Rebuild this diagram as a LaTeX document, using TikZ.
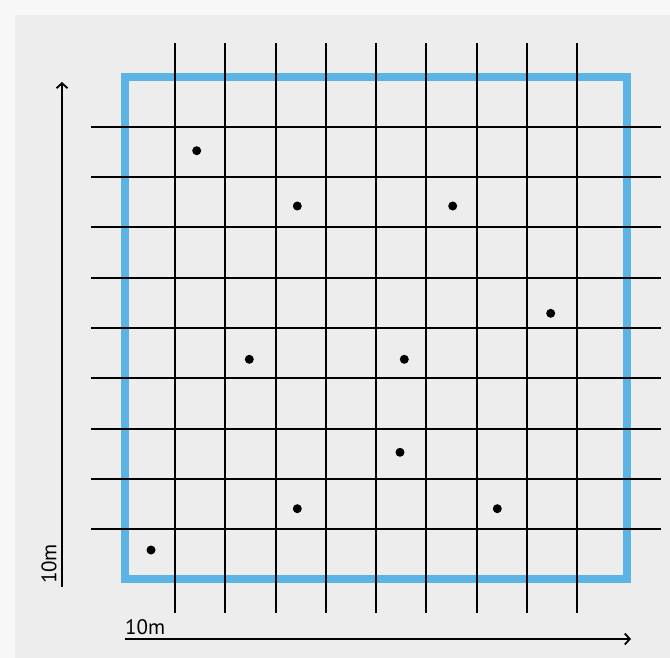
\documentclass[tikz,border=0pt]{standalone}
\usepackage{fontspec}
\setmainfont{PT Sans}
\usetikzlibrary{arrows.meta}
\definecolor{panel}{RGB}{237,237,237}
\definecolor{outer}{RGB}{247,247,247}
\definecolor{plotblue}{RGB}{92,180,228}
\tikzset{
  gridline/.style={black, line width=2pt},
  border/.style={plotblue, line width=8pt, line join=miter},
  dot/.style={circle, fill=black, inner sep=0pt, minimum size=9pt},
  scalearrow/.style={black, line width=1.6pt, -{Straight Barb[length=5pt,width=11pt,line width=1.8pt]}},
  scalelabel/.style={font=\fontsize{21}{21}\selectfont, inner sep=0pt}
}
\begin{document}
\begin{tikzpicture}[x=1pt,y=-1pt]
\useasboundingbox (0,0) rectangle (670,658);
\fill[outer] (0,0) rectangle (670,658);
\fill[panel] (15,15) rectangle (670,658);
% blue plot border
\draw[border] (125,77) rectangle (627,579);
% grid
\foreach \k in {0,...,8}{
  \draw[gridline] ({175+50.25*\k},43) -- ({175+50.25*\k},613);
  \draw[gridline] (91,{127+50.25*\k}) -- (661,{127+50.25*\k});
}
% dots
\node[dot] (d1) at (196.7,150.7) {};
\node[dot] (d2) at (297.3,206) {};
\node[dot] (d3) at (452.7,206) {};
\node[dot] (d4) at (550.7,313.3) {};
\node[dot] (d5) at (249.3,359.3) {};
\node[dot] (d6) at (404.3,359.3) {};
\node[dot] (d7) at (400,452.3) {};
\node[dot] (d8) at (297.3,508.7) {};
\node[dot] (d9) at (497.3,508.7) {};
\node[dot] (d10) at (151,550) {};
% scale arrows
\coordinate (v0) at (62,587);
\coordinate (v1) at (62,82);
\coordinate (h0) at (125,639);
\coordinate (h1) at (631,639);
\draw[scalearrow] (v0) -- (v1);
\draw[scalearrow] (h0) -- (h1);
\node[scalelabel, rotate=90] (vl) at (49,564) {10m};
\node[scalelabel, anchor=west] (hl) at (125,627.5) {10m};
\end{tikzpicture}
\end{document}
